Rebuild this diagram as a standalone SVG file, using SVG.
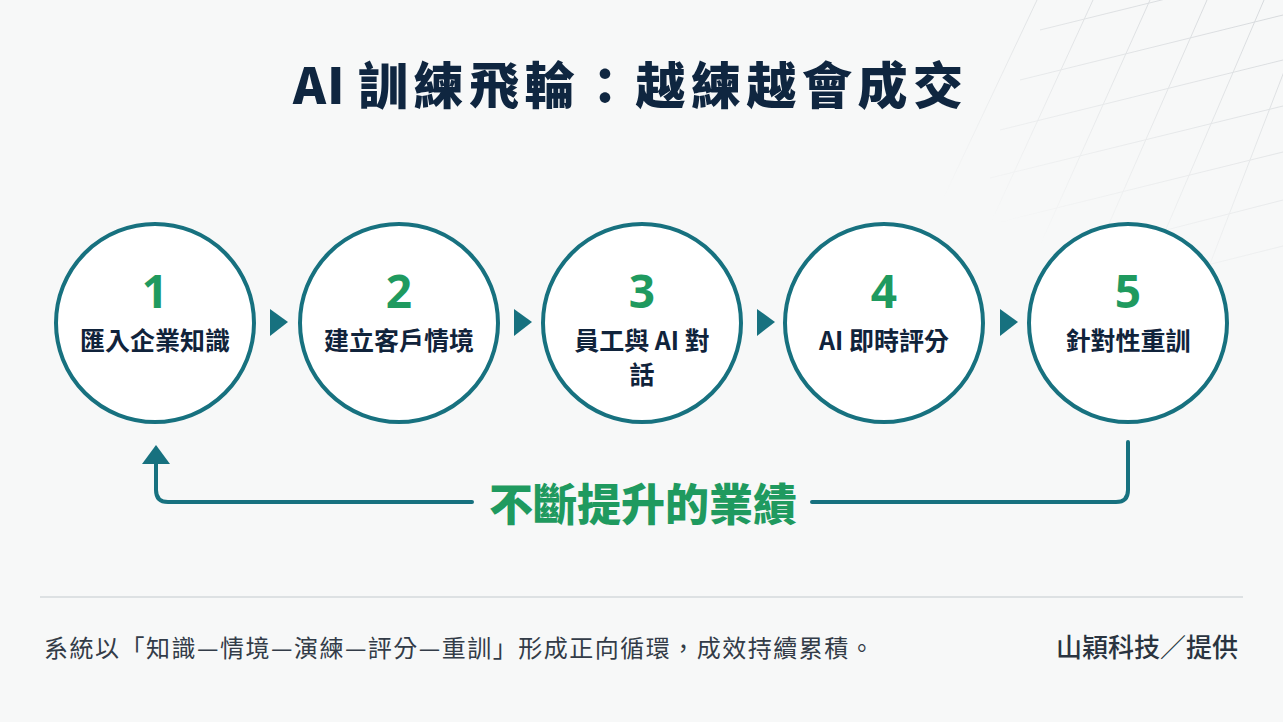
<svg xmlns="http://www.w3.org/2000/svg" width="1283" height="722" viewBox="0 0 1283 722">
<defs>
<style>
.cjk{font-family:"Noto Sans CJK TC","Noto Sans CJK SC",sans-serif}
.node circle{fill:#ffffff;stroke:#17717f;stroke-width:4}
.num{font-family:"Noto Sans","Noto Sans CJK TC",sans-serif;font-weight:700;font-size:46px;fill:#1f9a5f;text-anchor:middle}
.lbl{font-family:"Noto Sans CJK TC","Noto Sans CJK SC",sans-serif;font-weight:700;font-size:25px;fill:#10233b;text-anchor:middle}
.grid line{stroke:#d6d9dc;stroke-width:1}
.tri{fill:#17717f}
.loop{fill:none;stroke:#17717f;stroke-width:4;stroke-linecap:round;stroke-linejoin:round}
</style>
<linearGradient id="fade" x1="1" y1="0" x2="0.45" y2="0.85">
<stop offset="0" stop-color="#fff" stop-opacity="1"/>
<stop offset="1" stop-color="#fff" stop-opacity="0"/>
</linearGradient>
<mask id="gm"><rect x="880" y="0" width="403" height="300" fill="url(#fade)"/></mask>
</defs>
<rect width="1283" height="722" fill="#f7f8f8"/>
<g class="grid" mask="url(#gm)">
<line x1="1037" y1="0" x2="900" y2="290"/>
<line x1="1093" y1="0" x2="960" y2="290"/>
<line x1="1150" y1="0" x2="1020" y2="290"/>
<line x1="1207" y1="0" x2="1080" y2="290"/>
<line x1="1264" y1="0" x2="1140" y2="290"/>
<line x1="1300" y1="30" x2="1200" y2="290"/>
<line x1="1040" y1="30" x2="1283" y2="-30"/>
<line x1="1020" y1="80" x2="1283" y2="15"/>
<line x1="1000" y1="130" x2="1283" y2="60"/>
<line x1="990" y1="178" x2="1283" y2="106"/>
<line x1="1000" y1="222" x2="1283" y2="152"/>
<line x1="1030" y1="265" x2="1283" y2="200"/>
<line x1="1100" y1="292" x2="1283" y2="246"/>
</g>
<text x="293" y="104" class="cjk" font-size="50" font-weight="900" fill="#0f2640"><tspan letter-spacing="1">AI </tspan><tspan letter-spacing="5.5">訓練飛輪：越練越會成交</tspan></text>
<g id="connectors">
<polygon class="tri" points="270,309 288,322 270,336"/>
<polygon class="tri" points="514,309 532,322 514,336"/>
<polygon class="tri" points="757,309 775,322 757,336"/>
<polygon class="tri" points="1000,309 1018,322 1000,336"/>
<path class="loop" d="M1128,442 V490 Q1128,502 1116,502 H812"/>
<path class="loop" d="M472,502 H168 Q156,502 156,490 V462"/>
<polygon class="tri" points="156,445 170,464 142,464"/>
</g>
<g id="node1" class="node"><circle cx="155" cy="323" r="99"/><text class="num" x="155" y="308">1</text><text class="lbl" x="155" y="350">匯入企業知識</text></g>
<g id="node2" class="node"><circle cx="399" cy="323" r="99"/><text class="num" x="399" y="308">2</text><text class="lbl" x="399" y="350">建立客戶情境</text></g>
<g id="node3" class="node"><circle cx="642" cy="323" r="99"/><text class="num" x="642" y="308">3</text><text class="lbl" x="642" y="350">員工與 AI 對</text><text class="lbl" x="642" y="384">話</text></g>
<g id="node4" class="node"><circle cx="884" cy="323" r="99"/><text class="num" x="884" y="308">4</text><text class="lbl" x="884" y="350">AI 即時評分</text></g>
<g id="node5" class="node"><circle cx="1128" cy="323" r="99"/><text class="num" x="1128" y="308">5</text><text class="lbl" x="1128" y="350">針對性重訓</text></g>
<text x="643" y="521" class="cjk" font-size="44" font-weight="900" fill="#1f9a5f" text-anchor="middle">不斷提升的業績</text>
<line x1="40" y1="597" x2="1243" y2="597" stroke="#dde1e3" stroke-width="2"/>
<text x="44" y="657" class="cjk" font-size="24" font-weight="400" fill="#333c48" letter-spacing="1.5">系統以「知識—情境—演練—評分—重訓」形成正向循環，成效持續累積。</text>
<text x="1238" y="657" class="cjk" font-size="26" font-weight="500" fill="#2a3440" text-anchor="end">山穎科技／提供</text>
</svg>
